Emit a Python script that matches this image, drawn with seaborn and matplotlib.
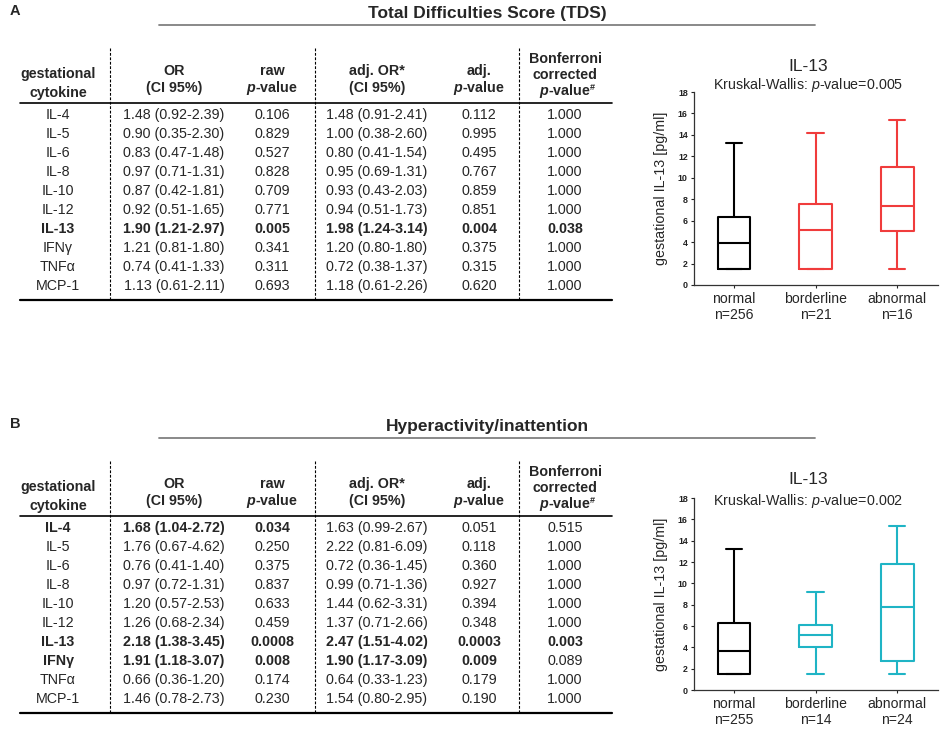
import numpy as np
import pandas as pd
import matplotlib
matplotlib.use("Agg")
import matplotlib.pyplot as plt
import seaborn as sns

# table data
cytokines = ["IL-4", "IL-5", "IL-6", "IL-8", "IL-10", "IL-12", "IL-13", "IFNγ", "TNFα", "MCP-1"]

tds_or = ["1.48 (0.92-2.39)", "0.90 (0.35-2.30)", "0.83 (0.47-1.48)", "0.97 (0.71-1.31)",
          "0.87 (0.42-1.81)", "0.92 (0.51-1.65)", "1.90 (1.21-2.97)", "1.21 (0.81-1.80)",
          "0.74 (0.41-1.33)", "1.13 (0.61-2.11)"]
tds_raw_p = ["0.106", "0.829", "0.527", "0.828", "0.709", "0.771", "0.005", "0.341", "0.311", "0.693"]
tds_adj_or = ["1.48 (0.91-2.41)", "1.00 (0.38-2.60)", "0.80 (0.41-1.54)", "0.95 (0.69-1.31)",
              "0.93 (0.43-2.03)", "0.94 (0.51-1.73)", "1.98 (1.24-3.14)", "1.20 (0.80-1.80)",
              "0.72 (0.38-1.37)", "1.18 (0.61-2.26)"]
tds_adj_p = ["0.112", "0.995", "0.495", "0.767", "0.859", "0.851", "0.004", "0.375", "0.315", "0.620"]
tds_bonf = ["1.000", "1.000", "1.000", "1.000", "1.000", "1.000", "0.038", "1.000", "1.000", "1.000"]

hyp_or = ["1.68 (1.04-2.72)", "1.76 (0.67-4.62)", "0.76 (0.41-1.40)", "0.97 (0.72-1.31)",
          "1.20 (0.57-2.53)", "1.26 (0.68-2.34)", "2.18 (1.38-3.45)", "1.91 (1.18-3.07)",
          "0.66 (0.36-1.20)", "1.46 (0.78-2.73)"]
hyp_raw_p = ["0.034", "0.250", "0.375", "0.837", "0.633", "0.459", "0.0008", "0.008", "0.174", "0.230"]
hyp_adj_or = ["1.63 (0.99-2.67)", "2.22 (0.81-6.09)", "0.72 (0.36-1.45)", "0.99 (0.71-1.36)",
              "1.44 (0.62-3.31)", "1.37 (0.71-2.66)", "2.47 (1.51-4.02)", "1.90 (1.17-3.09)",
              "0.64 (0.33-1.23)", "1.54 (0.80-2.95)"]
hyp_adj_p = ["0.051", "0.118", "0.360", "0.927", "0.394", "0.348", "0.0003", "0.009", "0.179", "0.190"]
hyp_bonf = ["0.515", "1.000", "1.000", "1.000", "1.000", "1.000", "0.003", "0.089", "1.000", "1.000"]

# which cells are bold: row name -> number of leading bold columns
tds_bold = {"IL-13": 6}
hyp_bold = {"IL-4": 3, "IL-13": 6, "IFNγ": 5}

# box plot summaries (min, q1, median, q3, max)
groups = ["normal", "borderline", "abnormal"]
tds_n = [256, 21, 16]
tds_low = [1.5, 1.5, 1.5]
tds_q1 = [1.5, 1.5, 5.0]
tds_med = [3.9, 5.1, 7.4]
tds_q3 = [6.3, 7.6, 11.0]
tds_high = [13.2, 14.2, 15.4]
tds_kw_p = "0.005"

hyp_n = [255, 14, 24]
hyp_low = [1.5, 1.5, 1.5]
hyp_q1 = [1.5, 4.0, 2.7]
hyp_med = [3.7, 5.2, 7.8]
hyp_q3 = [6.3, 6.1, 11.8]
hyp_high = [13.2, 9.2, 15.4]
hyp_kw_p = "0.002"

# style
sns.set_style("ticks")
plt.rcParams["font.family"] = ["Liberation Sans", "DejaVu Sans"]
plt.rcParams["mathtext.fontset"] = "custom"
plt.rcParams["mathtext.rm"] = "Liberation Sans"
plt.rcParams["mathtext.it"] = "Liberation Sans:italic"
plt.rcParams["mathtext.bf"] = "Liberation Sans:bold"
plt.rcParams["mathtext.bfit"] = "Liberation Sans:italic:bold"

RED = "#f03c3c"
TEAL = "#1fb4c5"
FS = 10.3

fig = plt.figure(figsize=(9.4, 7.3), dpi=100)
bg = fig.add_axes([0, 0, 1, 1])
bg.set_xlim(0, 940)
bg.set_ylim(730, 0)
bg.axis("off")

col_x = [58, 174, 272, 377, 479, 565]
dash_x = [110, 315, 519]
P_HDR = r"$\mathbfit{p}$-value"


def draw_table(y0, columns, bold, title, letter):
    # y0 = y of the header rule
    bg.text(10, y0 - 88, letter, fontsize=10.5, fontweight="bold", ha="left", va="baseline")
    bg.text(487, y0 - 85, title, fontsize=12.5, fontweight="bold", ha="center", va="baseline")
    bg.plot([159, 815], [y0 - 78, y0 - 78], color="#808080", lw=1.3)

    headers = [["gestational", "cytokine"], ["OR", "(CI 95%)"], ["raw", P_HDR],
               ["adj. OR*", "(CI 95%)"], ["adj.", P_HDR],
               ["Bonferroni", "corrected", P_HDR]]
    for x, hdr in zip(col_x, headers):
        if len(hdr) == 3:
            ys = [y0 - 45, y0 - 29, y0 - 13]
        elif hdr[0] == "gestational":
            ys = [y0 - 30, y0 - 11]
        else:
            ys = [y0 - 33, y0 - 16]
        for y, t in zip(ys, hdr):
            bg.text(x, y + 5, t, fontsize=FS, fontweight="bold", ha="center", va="baseline")
    # footnote mark after the last Bonferroni header line
    bg.text(col_x[5] + 25, y0 - 13, "#", fontsize=6.5, fontweight="bold", ha="left", va="baseline")

    bg.plot([20, 612], [y0, y0], color="black", lw=1.2)
    for i, name in enumerate(cytokines):
        y = y0 + 11 + 19 * i
        nb = bold.get(name, 0)
        cells = [name] + [c[i] for c in columns]
        for j, (x, t) in enumerate(zip(col_x, cells)):
            bg.text(x, y + 5, t, fontsize=FS, fontweight="bold" if j < nb else "normal",
                    ha="center", va="baseline")
    y_end = y0 + 11 + 19 * 9 + 15
    bg.plot([20, 612], [y_end, y_end], color="black", lw=1.6)
    for x in dash_x:
        bg.plot([x, x], [y0 - 55, y_end], color="black", lw=0.8, ls=(0, (2.5, 1.5)))


draw_table(103, [tds_or, tds_raw_p, tds_adj_or, tds_adj_p, tds_bonf], tds_bold,
           "Total Difficulties Score (TDS)", "A")
draw_table(516, [hyp_or, hyp_raw_p, hyp_adj_or, hyp_adj_p, hyp_bonf], hyp_bold,
           "Hyperactivity/inattention", "B")


def draw_box(rect, low, q1, med, q3, high, n, color, kw_p, y_title, y_kw):
    ax = fig.add_axes(rect)
    rows = []
    for g, a, b, c, d, e in zip(groups, low, q1, med, q3, high):
        for v in (a, b, c, d, e):
            rows.append({"group": g, "value": v})
    df = pd.DataFrame(rows)
    sns.boxplot(data=df, x="group", y="value", hue="group", order=groups, hue_order=groups,
                palette=["black", color, color], fill=False, whis=(0, 100), width=0.4,
                linewidth=1.5, legend=False, ax=ax)
    ax.set_xlim(-0.49, 2.5)
    ax.set_ylim(0, 18)
    ax.set_yticks(np.arange(0, 19, 2))
    ax.set_xticks(range(len(groups)))
    ax.set_xticklabels([f"{g}\nn={k}" for g, k in zip(groups, n)], fontsize=10.1)
    ax.tick_params(axis="y", labelsize=6.4, length=2.5, width=0.8, pad=2, colors="#222222")
    ax.tick_params(axis="x", length=2, width=0.8, pad=3)
    for lab in ax.get_yticklabels():
        lab.set_fontweight("bold")
    ax.set_xlabel("")
    ax.set_ylabel("gestational IL-13 [pg/ml]", fontsize=10.3, labelpad=7)
    sns.despine(ax=ax)
    for s in ("left", "bottom"):
        ax.spines[s].set_linewidth(0.9)
        ax.spines[s].set_color("#333333")
    ax.patch.set_alpha(0)
    bg.text(808, y_title + 6, "IL-13", fontsize=12.6, ha="center", va="baseline")
    bg.text(808, y_kw + 5, r"Kruskal-Wallis: $\mathit{p}$-value=" + kw_p, fontsize=10.3,
            ha="center", va="baseline")
    return ax


draw_box([694 / 940, 1 - 285 / 730, 244 / 940, 193 / 730],
         tds_low, tds_q1, tds_med, tds_q3, tds_high, tds_n, RED, tds_kw_p, 65, 84)
draw_box([694 / 940, 1 - 690 / 730, 244 / 940, 192 / 730],
         hyp_low, hyp_q1, hyp_med, hyp_q3, hyp_high, hyp_n, TEAL, hyp_kw_p, 478, 500)

fig.savefig("out.png", dpi=100)
